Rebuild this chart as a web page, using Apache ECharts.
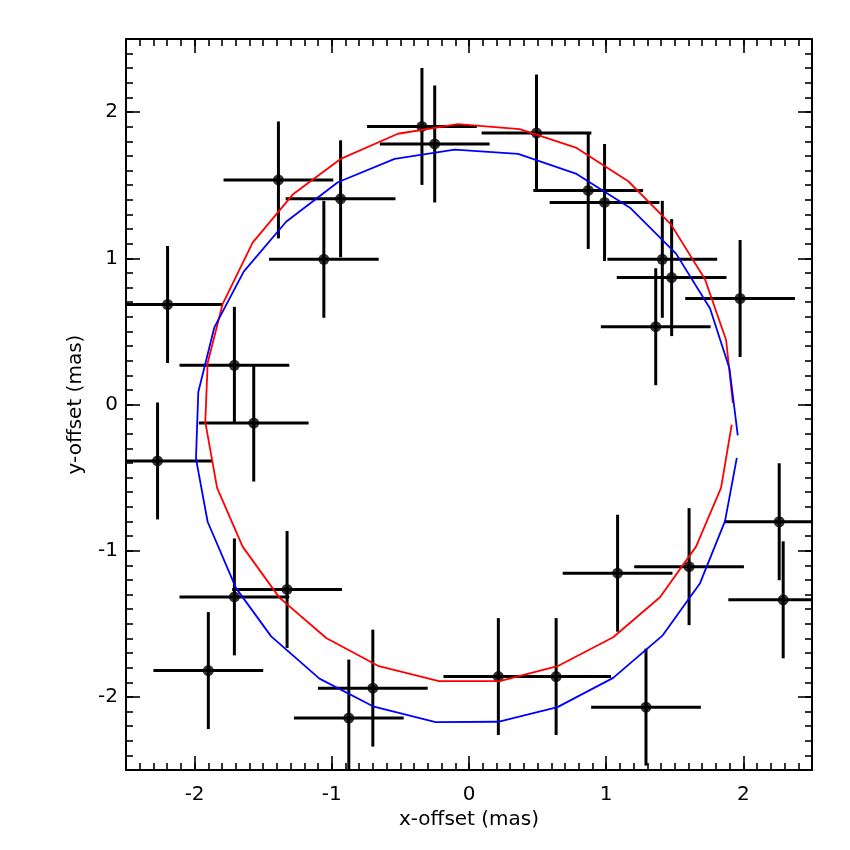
<!DOCTYPE html>
<html><head><meta charset="utf-8">
<script src="https://cdn.jsdelivr.net/npm/echarts@6/dist/echarts.min.js"></script>
<style>html,body{margin:0;padding:0;background:#fff}#c{width:850px;height:850px}</style>
</head><body><div id="c"></div>
<script>
// Observations (mas)
const obsX = [-2.197,-1.389,-1.058,-0.936,-0.343,-0.250,0.492,0.869,0.988,1.409,1.477,1.976,1.361,-1.710,-1.569,-2.270,-1.710,-1.326,-1.900,-0.876,-0.701,0.214,0.635,1.083,1.604,1.290,2.261,2.290];
const obsY = [0.684,1.536,0.993,1.407,1.902,1.782,1.857,1.464,1.382,0.993,0.868,0.725,0.532,0.268,-0.127,-0.386,-1.316,-1.265,-1.820,-2.145,-1.940,-1.861,-1.861,-1.154,-1.109,-2.070,-0.802,-1.336];
const obsXErr = [0.4,0.4,0.4,0.4,0.4,0.4,0.4,0.4,0.4,0.4,0.4,0.4,0.4,0.4,0.4,0.4,0.4,0.4,0.4,0.4,0.4,0.4,0.4,0.4,0.4,0.4,0.4,0.4];
const obsYErr = [0.4,0.4,0.4,0.4,0.4,0.4,0.4,0.4,0.4,0.4,0.4,0.4,0.4,0.4,0.4,0.4,0.4,0.4,0.4,0.4,0.4,0.4,0.4,0.4,0.4,0.4,0.4,0.4];
// Orbit models
const redX = [1.915,1.837,1.655,1.392,1.051,0.645,0.224,-0.219,-0.657,-1.041,-1.382,-1.650,-1.836,-1.922,-1.905,-1.796,-1.577,-1.285,-0.931,-0.518,-0.080,0.370,0.784,1.161,1.472,1.720,1.874,1.923];
const redY = [-0.138,-0.570,-0.972,-1.318,-1.592,-1.790,-1.892,-1.892,-1.790,-1.597,-1.321,-0.972,-0.570,-0.120,0.284,0.686,1.107,1.436,1.682,1.852,1.918,1.884,1.755,1.527,1.232,0.857,0.441,0.010];
const blueX = [1.952,1.866,1.684,1.412,1.051,0.645,0.212,-0.243,-0.693,-1.090,-1.442,-1.698,-1.905,-1.990,-1.973,-1.856,-1.642,-1.333,-0.956,-0.542,-0.104,0.358,0.784,1.173,1.509,1.757,1.898,1.959];
const blueY = [-0.365,-0.798,-1.222,-1.579,-1.870,-2.070,-2.170,-2.172,-2.067,-1.875,-1.586,-1.256,-0.802,-0.370,0.085,0.528,0.909,1.250,1.520,1.680,1.743,1.714,1.577,1.346,1.032,0.657,0.248,-0.211];
// Axis
const xTicks = [-2,-1,0,1,2];
const yTicks = [-2,-1,0,1,2];
const xTitle = 'x-offset (mas)';
const yTitle = 'y-offset (mas)';

const FONT = 'DejaVu Sans';
const lineCol = '#000';
function minorAxis(pos){
  return {type:'value', min:-2.5, max:2.5, interval:0.1, position:pos,
    axisLine:{show:true, onZero:false, lineStyle:{color:lineCol, width:2}},
    axisTick:{show:true, inside:true, length:7, lineStyle:{color:lineCol, width:1.6}},
    axisLabel:{show:false}, splitLine:{show:false}};
}
function majorAxis(pos, ticks, showLabel, name, nameGap, labelMargin){
  return {type:'value', min:-2.5, max:2.5, position:pos,
    name: name || '', nameLocation:'middle', nameGap: nameGap || 0,
    nameTextStyle:{fontFamily:FONT, fontSize:20, color:'#000'},
    axisLine:{show:false, onZero:false},
    axisTick:{show:true, inside:true, length:14, customValues:ticks, lineStyle:{color:lineCol, width:1.6}},
    axisLabel:{show:showLabel, customValues:ticks, fontFamily:FONT, fontSize:20, color:'#000', margin:labelMargin||8,
      formatter:(v)=>String(v)},
    splitLine:{show:false}};
}

const errData = obsX.map((x,i)=>[x, obsY[i], obsXErr[i], obsYErr[i]]);
const ptData = obsX.map((x,i)=>[x, obsY[i]]);
const redData = redX.map((x,i)=>[x, redY[i]]);
const blueData = blueX.map((x,i)=>[x, blueY[i]]);

const chart = echarts.init(document.getElementById('c'), null, {renderer:'canvas'});
chart.setOption({
  animation:false,
  backgroundColor:'#fff',
  grid:{left:126, right:38, top:39, bottom:80, containLabel:false, outerBoundsMode:'none'},
  xAxis:[
    majorAxis('bottom', xTicks, true, xTitle, 38, 15),
    minorAxis('bottom'),
    majorAxis('top', xTicks, false),
    minorAxis('top')
  ],
  yAxis:[
    majorAxis('left', yTicks, true, yTitle, 40, 8),
    minorAxis('left'),
    majorAxis('right', yTicks, false),
    minorAxis('right')
  ],
  series:[
    {type:'custom', xAxisIndex:0, yAxisIndex:0, data:errData, clip:true, z:2,
      encode:{x:0, y:1},
      renderItem:(params, api)=>{
        const x=api.value(0), y=api.value(1), ex=api.value(2), ey=api.value(3);
        const cs = params.coordSys;
        const x0=cs.x, x1=cs.x+cs.width, y0=cs.y, y1=cs.y+cs.height;
        const cl=(v,a,b)=>Math.max(a, Math.min(b, v));
        const l=api.coord([x-ex,y]), r=api.coord([x+ex,y]);
        const t=api.coord([x,y+ey]), b=api.coord([x,y-ey]);
        const st={stroke:'#000', lineWidth:3};
        return {type:'group', children:[
          {type:'line', shape:{x1:cl(l[0],x0,x1), y1:l[1], x2:cl(r[0],x0,x1), y2:r[1]}, style:st},
          {type:'line', shape:{x1:t[0], y1:cl(t[1],y0,y1), x2:b[0], y2:cl(b[1],y0,y1)}, style:st}
        ]};
      }},
    {type:'scatter', xAxisIndex:0, yAxisIndex:0, data:ptData, symbol:'circle', symbolSize:11,
      itemStyle:{color:'#000'}, z:3},
    {type:'line', xAxisIndex:0, yAxisIndex:0, data:redData, showSymbol:false, clip:true,
      lineStyle:{color:'#ff0000', width:1.8}, z:4},
    {type:'line', xAxisIndex:0, yAxisIndex:0, data:blueData, showSymbol:false, clip:true,
      lineStyle:{color:'#0000ff', width:1.8}, z:4}
  ]
});
</script>
</body></html>
